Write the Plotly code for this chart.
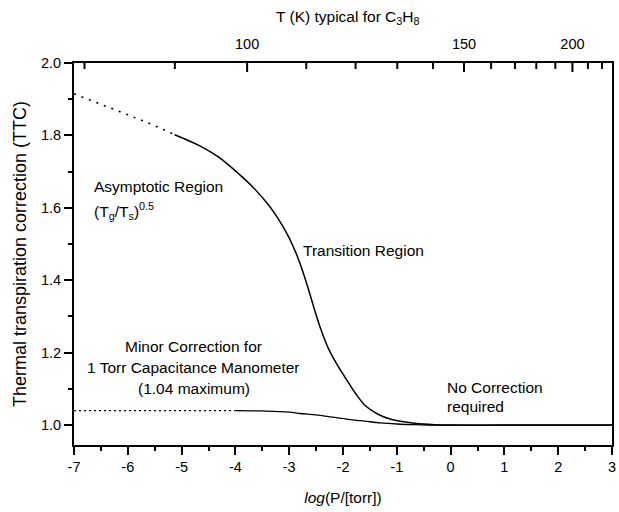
import plotly.graph_objects as go

# ---- data ----
main_dot_x = [-7.0, -6.5, -6.0, -5.5, -5.13]
main_dot_y = [1.915, 1.887, 1.857, 1.827, 1.802]

main_x = [-5.13, -4.67, -4.31, -4.00, -3.66, -3.38, -3.20, -3.01, -2.87, -2.74,
          -2.64, -2.53, -2.42, -2.27, -2.09, -1.91, -1.76, -1.59, -1.35, -1.11,
          -0.67, -0.3, 0.0, 1.0, 2.0, 3.0]
main_y = [1.802, 1.772, 1.740, 1.702, 1.655, 1.607, 1.569, 1.520, 1.474, 1.421,
          1.374, 1.319, 1.268, 1.211, 1.162, 1.120, 1.086, 1.054, 1.030, 1.016,
          1.005, 1.001, 1.000, 1.000, 1.000, 1.000]

minor_dot_x = [-7.0, -4.0]
minor_dot_y = [1.04, 1.04]

minor_x = [-4.0, -3.5, -3.0, -2.8, -2.5, -2.2, -1.9, -1.6, -1.3, -1.0, -0.7, -0.4, 0.0, 1.0, 2.0, 3.0]
minor_y = [1.040, 1.039, 1.036, 1.032, 1.028, 1.022, 1.016, 1.011, 1.006, 1.003, 1.001, 1.000, 1.000, 1.000, 1.000, 1.000]

# bottom axis tick values / labels (hyphen minus as in the reference)
x_ticks = [-7, -6, -5, -4, -3, -2, -1, 0, 1, 2, 3]
x_tick_text = ["-7", "-6", "-5", "-4", "-3", "-2", "-1", "0", "1", "2", "3"]

# top axis: temperature (K) ticks
top_major_T = [100, 150, 200]
top_minor_T = [80, 90, 110, 120, 130, 140, 160, 170, 180, 190, 210, 220]
# log(P) = A - B / T  (vapour-pressure scale used for the top axis)
VP_A = 8.311
VP_B = 1209.3


def t_to_logp(T):
    return VP_A - VP_B / T


FONT = "Liberation Sans, Arial, sans-serif"
BLACK = "black"
XR = [-7, 3]
W, H = 619, 512
M = dict(l=74, r=3, t=63, b=67)
PLOT_H = H - M["t"] - M["b"]

fig = go.Figure()
fig.add_trace(go.Scatter(x=main_dot_x, y=main_dot_y, mode="lines",
                         line=dict(color=BLACK, width=1.6, dash="2px,6px"), showlegend=False))
fig.add_trace(go.Scatter(x=main_x, y=main_y, mode="lines", line_shape="spline",
                         line=dict(color=BLACK, width=1.5, smoothing=0.8), showlegend=False))
# this trace is placed on the top axis (identical range), so that axis gets real data
fig.add_trace(go.Scatter(x=minor_dot_x, y=minor_dot_y, mode="lines", xaxis="x2", yaxis="y",
                         line=dict(color=BLACK, width=1.3, dash="2px,3px"), showlegend=False))
fig.add_trace(go.Scatter(x=minor_x, y=minor_y, mode="lines", line_shape="spline",
                         line=dict(color=BLACK, width=1.3), showlegend=False))

ann_font = dict(family=FONT, size=15.5, color=BLACK)
annotations = [
    dict(x=-6.67, y=1.659, text="Asymptotic Region", xanchor="left"),
    dict(x=-6.67, y=1.590, text="(T<sub>g</sub>/T<sub>s</sub>)<sup>0.5</sup>", xanchor="left"),
    dict(x=-4.77, y=1.216, text="Minor Correction for", xanchor="center"),
    dict(x=-4.77, y=1.160, text="1 Torr Capacitance Manometer", xanchor="center"),
    dict(x=-4.77, y=1.102, text="(1.04 maximum)", xanchor="center"),
    dict(x=-2.78, y=1.483, text="Transition Region", xanchor="left"),
    dict(x=-0.10, y=1.105, text="No Correction", xanchor="left"),
    dict(x=-0.10, y=1.050, text="required", xanchor="left"),
]
for a in annotations:
    a.update(xref="x", yref="y", showarrow=False, font=ann_font, yanchor="middle")

# top axis title
annotations.append(dict(xref="paper", yref="paper", x=0.51, y=1.12, xanchor="center",
                        yanchor="middle", showarrow=False,
                        text="T (K) typical for C<sub>3</sub>H<sub>8</sub>",
                        font=dict(family=FONT, size=15.5, color=BLACK)))

# inward tick marks of the temperature axis (positioned through the x scale)
shapes = []
for T_list, tlen in ((top_major_T, 9), (top_minor_T, 6)):
    for T in T_list:
        xv = t_to_logp(T)
        shapes.append(dict(type="line", xref="x", yref="paper", x0=xv, x1=xv,
                           y0=1.0, y1=1.0 - tlen / PLOT_H, layer="above",
                           line=dict(color=BLACK, width=2)))

fig.update_layout(
    width=W, height=H,
    margin=M,
    paper_bgcolor="white", plot_bgcolor="white",
    font=dict(family=FONT, size=14.5, color=BLACK),
    annotations=annotations,
    shapes=shapes,
    xaxis=dict(
        range=XR, tickmode="array", tickvals=x_ticks, ticktext=x_tick_text,
        ticks="outside", ticklen=8, tickwidth=1.5,
        tickcolor=BLACK, showline=True, linewidth=2, linecolor=BLACK,
        showgrid=False, zeroline=False,
        tickfont=dict(family=FONT, size=14.5),
        minor=dict(dtick=0.5, ticks="outside", ticklen=4, tickwidth=1.5, tickcolor=BLACK),
        title=dict(text="<i>log</i>(P/[torr])", font=dict(family=FONT, size=15.5), standoff=18),
    ),
    xaxis2=dict(
        overlaying="x", side="top", anchor="y", range=XR,
        tickmode="array", tickvals=[t_to_logp(T) for T in top_major_T],
        ticktext=[str(T) for T in top_major_T],
        ticks="", ticklabelstandoff=6,
        showline=True, linewidth=2, linecolor=BLACK, showgrid=False, zeroline=False,
        tickfont=dict(family=FONT, size=14.5),
    ),
    yaxis=dict(
        range=[0.945, 2.0], tick0=0, dtick=0.2, tickformat=".1f",
        ticks="outside", ticklen=8, tickwidth=1.5, tickcolor=BLACK,
        showline=True, linewidth=2, linecolor=BLACK, mirror=True,
        showgrid=False, zeroline=False,
        tickfont=dict(family=FONT, size=14.5),
        minor=dict(dtick=0.1, ticks="outside", ticklen=4, tickwidth=1.5, tickcolor=BLACK),
        title=dict(text="Thermal transpiration correction (TTC)",
                   font=dict(family=FONT, size=18), standoff=10),
    ),
)

fig.write_html("out.html")
